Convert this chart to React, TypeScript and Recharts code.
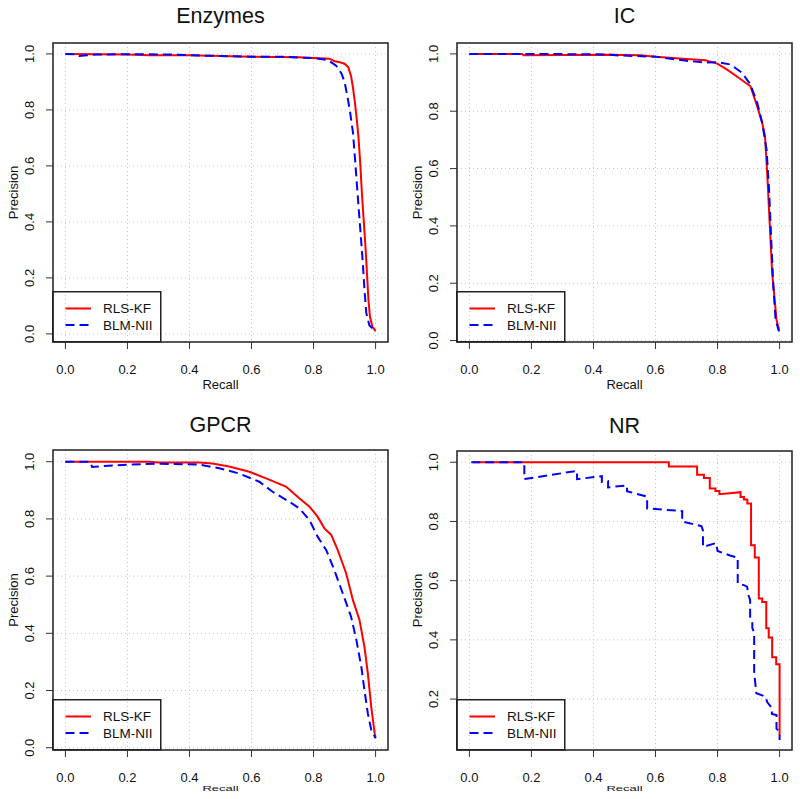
import React from 'react';
import { LineChart, Line, XAxis, YAxis, CartesianGrid, ReferenceArea, Legend } from 'recharts';

const FONT = '"Liberation Sans", Arial, Helvetica, sans-serif';

const xTicks = [0, 0.2, 0.4, 0.6, 0.8, 1.0];
const yTicksFull = [0, 0.2, 0.4, 0.6, 0.8, 1.0];
const yTicksNR = [0.2, 0.4, 0.6, 0.8, 1.0];
const seriesNames = ['RLS-KF', 'BLM-NII'];
const seriesColors = ['#ff0000', '#0000ff'];
const panelTitles = ['Enzymes', 'IC', 'GPCR', 'NR'];

// Enzymes
const enzymesRlsRecall = [0, 0.1, 0.2, 0.27, 0.4, 0.5, 0.6, 0.75, 0.851, 0.868, 0.885, 0.9, 0.912, 0.921, 0.927, 0.933, 0.939, 0.945, 0.951, 0.956, 0.962, 0.968, 0.973, 0.977, 0.982, 0.99, 1.0];
const enzymesRlsPrecision = [1.0, 0.999, 0.998, 0.995, 0.995, 0.993, 0.99, 0.988, 0.983, 0.974, 0.97, 0.965, 0.952, 0.92, 0.88, 0.83, 0.77, 0.7, 0.6, 0.5, 0.4, 0.3, 0.2, 0.12, 0.06, 0.025, 0.01];
const enzymesBlmRecall = [0, 0.04, 0.045, 0.07, 0.1, 0.2, 0.35, 0.4, 0.6, 0.7, 0.8, 0.846, 0.873, 0.89, 0.9, 0.911, 0.918, 0.927, 0.934, 0.94, 0.946, 0.953, 0.959, 0.964, 0.97, 0.98, 1.0];
const enzymesBlmPrecision = [1.0, 0.998, 0.993, 0.995, 0.998, 0.999, 0.998, 0.995, 0.99, 0.99, 0.985, 0.978, 0.958, 0.93, 0.9, 0.837, 0.79, 0.72, 0.62, 0.53, 0.44, 0.34, 0.25, 0.16, 0.075, 0.03, 0.01];

// IC
const icRlsRecall = [0, 0.17, 0.175, 0.3, 0.45, 0.55, 0.6, 0.7, 0.761, 0.799, 0.831, 0.869, 0.906, 0.928, 0.944, 0.953, 0.96, 0.968, 0.976, 0.984, 0.99, 0.998];
const icRlsPrecision = [1.0, 1.0, 0.995, 0.996, 0.997, 0.995, 0.99, 0.982, 0.978, 0.966, 0.945, 0.916, 0.887, 0.817, 0.759, 0.713, 0.585, 0.41, 0.236, 0.143, 0.073, 0.038];
const icBlmRecall = [0, 0.2, 0.45, 0.47, 0.6, 0.7, 0.76, 0.799, 0.842, 0.879, 0.906, 0.928, 0.944, 0.958, 0.966, 0.973, 0.98, 0.987, 0.998];
const icBlmPrecision = [1.0, 1.0, 0.998, 0.995, 0.99, 0.976, 0.97, 0.971, 0.963, 0.934, 0.893, 0.829, 0.759, 0.666, 0.527, 0.352, 0.189, 0.073, 0.032];

// GPCR
const gpcrRlsRecall = [0, 0.27, 0.3, 0.431, 0.474, 0.528, 0.593, 0.647, 0.711, 0.754, 0.787, 0.813, 0.835, 0.857, 0.878, 0.905, 0.927, 0.948, 0.964, 0.975, 0.986, 0.997, 1.0];
const gpcrRlsPrecision = [1.0, 1.0, 0.997, 0.997, 0.994, 0.983, 0.965, 0.942, 0.913, 0.872, 0.843, 0.808, 0.767, 0.744, 0.691, 0.61, 0.516, 0.447, 0.353, 0.26, 0.143, 0.05, 0.035];
const gpcrBlmRecall = [0, 0.08, 0.086, 0.2, 0.3, 0.431, 0.496, 0.56, 0.625, 0.668, 0.722, 0.754, 0.787, 0.813, 0.841, 0.867, 0.894, 0.921, 0.938, 0.954, 0.964, 0.975, 0.986, 1.0];
const gpcrBlmPrecision = [1.0, 1.0, 0.982, 0.99, 0.993, 0.99, 0.977, 0.959, 0.93, 0.895, 0.86, 0.837, 0.796, 0.738, 0.691, 0.621, 0.54, 0.458, 0.377, 0.283, 0.202, 0.12, 0.062, 0.033];

// NR
const nrRlsRecall = [0.012, 0.643, 0.643, 0.734, 0.734, 0.756, 0.756, 0.775, 0.775, 0.793, 0.793, 0.806, 0.806, 0.874, 0.874, 0.885, 0.885, 0.896, 0.896, 0.908, 0.908, 0.92, 0.92, 0.933, 0.933, 0.944, 0.944, 0.957, 0.957, 0.965, 0.965, 0.976, 0.976, 0.989, 0.989, 1.0, 1.0];
const nrRlsPrecision = [1.0, 1.0, 0.986, 0.986, 0.958, 0.958, 0.947, 0.947, 0.911, 0.911, 0.903, 0.903, 0.892, 0.899, 0.883, 0.883, 0.874, 0.874, 0.861, 0.861, 0.72, 0.72, 0.678, 0.678, 0.54, 0.54, 0.528, 0.528, 0.439, 0.439, 0.408, 0.408, 0.341, 0.341, 0.318, 0.318, 0.078];
const nrBlmRecall = [0.006, 0.177, 0.177, 0.347, 0.347, 0.427, 0.427, 0.447, 0.447, 0.508, 0.508, 0.573, 0.573, 0.686, 0.686, 0.748, 0.753, 0.753, 0.795, 0.8, 0.84, 0.865, 0.865, 0.885, 0.895, 0.9, 0.905, 0.905, 0.912, 0.912, 0.918, 0.918, 0.925, 0.955, 0.96, 0.975, 0.975, 0.99, 0.99, 1.0, 1.0];
const nrBlmPrecision = [1.0, 1.0, 0.943, 0.971, 0.943, 0.953, 0.934, 0.936, 0.915, 0.922, 0.902, 0.884, 0.844, 0.835, 0.8, 0.784, 0.77, 0.714, 0.727, 0.7, 0.685, 0.678, 0.59, 0.585, 0.58, 0.55, 0.535, 0.478, 0.46, 0.44, 0.425, 0.29, 0.22, 0.208, 0.19, 0.17, 0.15, 0.146, 0.1, 0.09, 0.062];

const toPoints = (r: number[], p: number[]) => r.map((v, i) => ({ recall: v, precision: p[i] }));

const X_DOMAIN: [number, number] = [-0.04, 1.04];
const PLOT_W = 335;

type PanelCfg = {
  title: string;
  left: number;
  top: number;
  height: number;
  plotLeft: number;
  plotTop: number;
  plotH: number;
  yDomain: [number, number];
  yTicks: number[];
  small: boolean;
  titleDrop: number;
  rls: { recall: number; precision: number }[];
  blm: { recall: number; precision: number }[];
};

const panels: PanelCfg[] = [
  { title: panelTitles[0], left: 0, top: 0, height: 400, plotLeft: 53, plotTop: 43, plotH: 299, yDomain: [-0.029, 1.039], yTicks: yTicksFull, small: false, titleDrop: 20, rls: toPoints(enzymesRlsRecall, enzymesRlsPrecision), blm: toPoints(enzymesBlmRecall, enzymesBlmPrecision) },
  { title: panelTitles[1], left: 400, top: 0, height: 400, plotLeft: 57, plotTop: 43, plotH: 299, yDomain: [-0.005, 1.038], yTicks: yTicksFull, small: false, titleDrop: 20, rls: toPoints(icRlsRecall, icRlsPrecision), blm: toPoints(icBlmRecall, icBlmPrecision) },
  { title: panelTitles[2], left: 0, top: 400, height: 399, plotLeft: 53, plotTop: 50, plotH: 300, yDomain: [-0.008, 1.041], yTicks: yTicksFull, small: true, titleDrop: 18.5, rls: toPoints(gpcrRlsRecall, gpcrRlsPrecision), blm: toPoints(gpcrBlmRecall, gpcrBlmPrecision) },
  { title: panelTitles[3], left: 400, top: 400, height: 399, plotLeft: 57, plotTop: 51, plotH: 299, yDomain: [0.028, 1.038], yTicks: yTicksNR, small: true, titleDrop: 18.5, rls: toPoints(nrRlsRecall, nrRlsPrecision), blm: toPoints(nrBlmRecall, nrBlmPrecision) },
];

const LegendBox = () => (
  <svg width={110} height={52} style={{ display: 'block', overflow: 'visible' }}>
    <rect x={0.75} y={0.75} width={108} height={50} fill="none" stroke="#222" strokeWidth={1.5} />
    <line x1={13.5} x2={39} y1={17.5} y2={17.5} stroke={seriesColors[0]} strokeWidth={2} />
    <line x1={13.5} x2={39} y1={34} y2={34} stroke={seriesColors[1]} strokeWidth={2} strokeDasharray="9 5" />
    <text x={51} y={17.5} dy="0.35em" fontSize={13.5} fontFamily={FONT} fontWeight="normal" fill="#111">{seriesNames[0]}</text>
    <text x={51} y={34} dy="0.35em" fontSize={13.5} fontFamily={FONT} fontWeight="normal" fill="#111">{seriesNames[1]}</text>
  </svg>
);

const Panel = ({ cfg }: { cfg: PanelCfg }) => {
  const plotBottom = cfg.plotTop + cfg.plotH;
  const xAxisH = cfg.height - plotBottom;
  const rightMargin = 400 - cfg.plotLeft - PLOT_W;
  const midX = cfg.plotLeft + PLOT_W / 2;
  const midY = cfg.plotTop + cfg.plotH / 2;

  const xTick = (props: any) => (
    <text x={props.x} y={plotBottom + 31.6} textAnchor="middle" fontSize={13} fontFamily={FONT} fontWeight="normal" fill="#111">
      {Number(props.payload.value).toFixed(1)}
    </text>
  );
  const yTick = (props: any) => {
    const cx = cfg.plotLeft - 24;
    const cy = props.y;
    return (
      <text transform={`translate(${cx},${cy}) rotate(-90)`} x={0} y={0} dy="0.35em" textAnchor="middle" fontSize={13} fontFamily={FONT} fontWeight="normal" fill="#111">
        {Number(props.payload.value).toFixed(1)}
      </text>
    );
  };
  const xLabel = () =>
    cfg.small ? (
      <text transform={`translate(${midX},${plotBottom + 40.6}) scale(1,0.55)`} x={0} y={0} textAnchor="middle" fontSize={13} fontFamily={FONT} fontWeight="normal" fill="#111">
        Recall
      </text>
    ) : (
      <text x={midX} y={plotBottom + 47.4} textAnchor="middle" fontSize={13} fontFamily={FONT} fontWeight="normal" fill="#111">
        Recall
      </text>
    );
  const yLabel = () => (
    <text transform={`translate(${cfg.plotLeft - 40},${midY}) rotate(-90)`} x={0} y={0} dy="0.35em" textAnchor="middle" fontSize={13} fontFamily={FONT} fontWeight="normal" fill="#111">
      Precision
    </text>
  );
  const titleLabel = () => (
    <text x={midX} y={cfg.plotTop - cfg.titleDrop} textAnchor="middle" fontSize={21.5} fontFamily={FONT} fontWeight="normal" fill="#111">
      {cfg.title}
    </text>
  );

  return (
    <div style={{ position: 'absolute', left: cfg.left, top: cfg.top, width: 400, height: cfg.height }}>
      <LineChart width={400} height={cfg.height} margin={{ top: cfg.plotTop, right: rightMargin, bottom: 0, left: 0 }}>
        <CartesianGrid stroke="#c4c4c4" strokeDasharray="1 3" strokeWidth={1} />
        <XAxis
          xAxisId={0}
          type="number"
          dataKey="recall"
          domain={X_DOMAIN}
          ticks={xTicks}
          allowDataOverflow
          interval={0}
          axisLine={false}
          tickSize={7}
          tickLine={{ stroke: '#333', strokeWidth: 1 }}
          tick={xTick}
          height={xAxisH}
          label={xLabel}
        />
        <YAxis
          yAxisId={0}
          type="number"
          dataKey="precision"
          domain={cfg.yDomain}
          ticks={cfg.yTicks}
          allowDataOverflow
          interval={0}
          axisLine={false}
          tickSize={7}
          tickLine={{ stroke: '#333', strokeWidth: 1 }}
          tick={yTick}
          width={cfg.plotLeft}
          label={yLabel}
        />
        <ReferenceArea
          xAxisId={0}
          yAxisId={0}
          x1={X_DOMAIN[0]}
          x2={X_DOMAIN[1]}
          y1={cfg.yDomain[0]}
          y2={cfg.yDomain[1]}
          fill="none"
          fillOpacity={0}
          stroke="#222"
          strokeWidth={1.5}
          strokeOpacity={1}
          ifOverflow="visible"
          label={titleLabel}
        />
        <Line
          xAxisId={0}
          yAxisId={0}
          data={cfg.rls}
          dataKey="precision"
          name={seriesNames[0]}
          type="linear"
          stroke={seriesColors[0]}
          strokeWidth={2}
          dot={false}
          activeDot={false}
          isAnimationActive={false}
        />
        <Line
          xAxisId={0}
          yAxisId={0}
          data={cfg.blm}
          dataKey="precision"
          name={seriesNames[1]}
          type="linear"
          stroke={seriesColors[1]}
          strokeWidth={2}
          strokeDasharray="9 5"
          dot={false}
          activeDot={false}
          isAnimationActive={false}
        />
        <Legend
          layout="horizontal"
          verticalAlign="middle"
          align="center"
          content={() => <LegendBox />}
          wrapperStyle={{ left: cfg.plotLeft - 0.75, top: plotBottom - 50.75, width: 110, height: 52, margin: 0, padding: 0 }}
        />
      </LineChart>
    </div>
  );
};

export default function App() {
  return (
    <div style={{ position: 'absolute', left: 0, top: 0, width: 800, height: 799, overflow: 'hidden', background: '#fff' }}>
      {panels.map((p) => (
        <Panel key={p.title} cfg={p} />
      ))}
    </div>
  );
}
